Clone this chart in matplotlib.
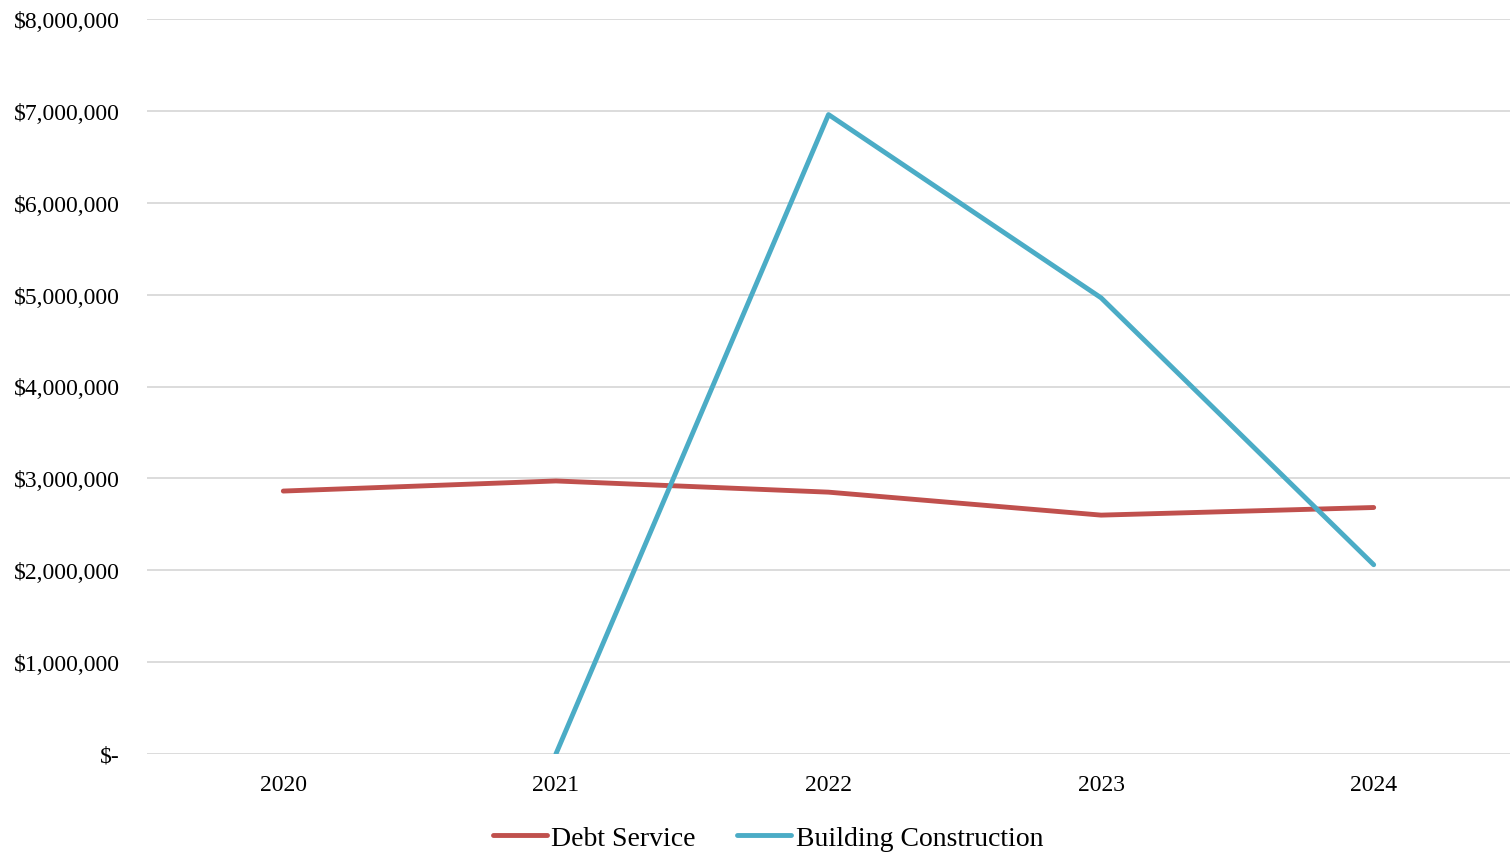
import numpy as np
import matplotlib.pyplot as plt
from matplotlib.ticker import FuncFormatter

years = ["2020", "2021", "2022", "2023", "2024"]
debt_service = [2862000, 2972000, 2850000, 2600000, 2683000]
building_construction = [np.nan, 0, 6960000, 4965000, 2060000]

plt.rcParams['font.family'] = ['Liberation Serif', 'DejaVu Serif']

fig = plt.figure(figsize=(15.10, 8.53), dpi=100)
ax = fig.add_axes([147 / 1510, 98 / 853, 1363 / 1510, 735 / 853])

x = np.arange(len(years))
ax.plot(x, debt_service, color='#C0504D', lw=3.5, solid_capstyle='round',
        solid_joinstyle='round', label='Debt Service', zorder=3)
ax.plot(x, building_construction, color='#4BACC6', lw=3.5, solid_capstyle='round',
        solid_joinstyle='round', label='Building Construction', zorder=3)

ax.set_xlim(-0.5, len(years) - 0.5)
ax.set_ylim(0, 8000000)
ax.set_yticks(np.arange(0, 8000001, 1000000))
ax.set_xticks(x)
ax.set_xticklabels(years)


def money(v, pos):
    if v == 0:
        return '$-'
    return f'${v:,.0f}'


ax.yaxis.set_major_formatter(FuncFormatter(money))
ax.grid(axis='y', color='#d9d9d9', lw=1.3)
ax.set_axisbelow(True)
for s in ax.spines.values():
    s.set_visible(False)
ax.tick_params(axis='both', length=0, labelsize=17, colors='black')
ax.tick_params(axis='y', pad=19.5)
ax.tick_params(axis='x', pad=14.5)

fig.legend(loc='center', bbox_to_anchor=(768 / 1510, 1 - 839 / 853), ncol=2,
           frameon=False, fontsize=20, handlelength=1.95, handletextpad=0.15,
           columnspacing=1.5)

fig.savefig('out.png', dpi=100)
